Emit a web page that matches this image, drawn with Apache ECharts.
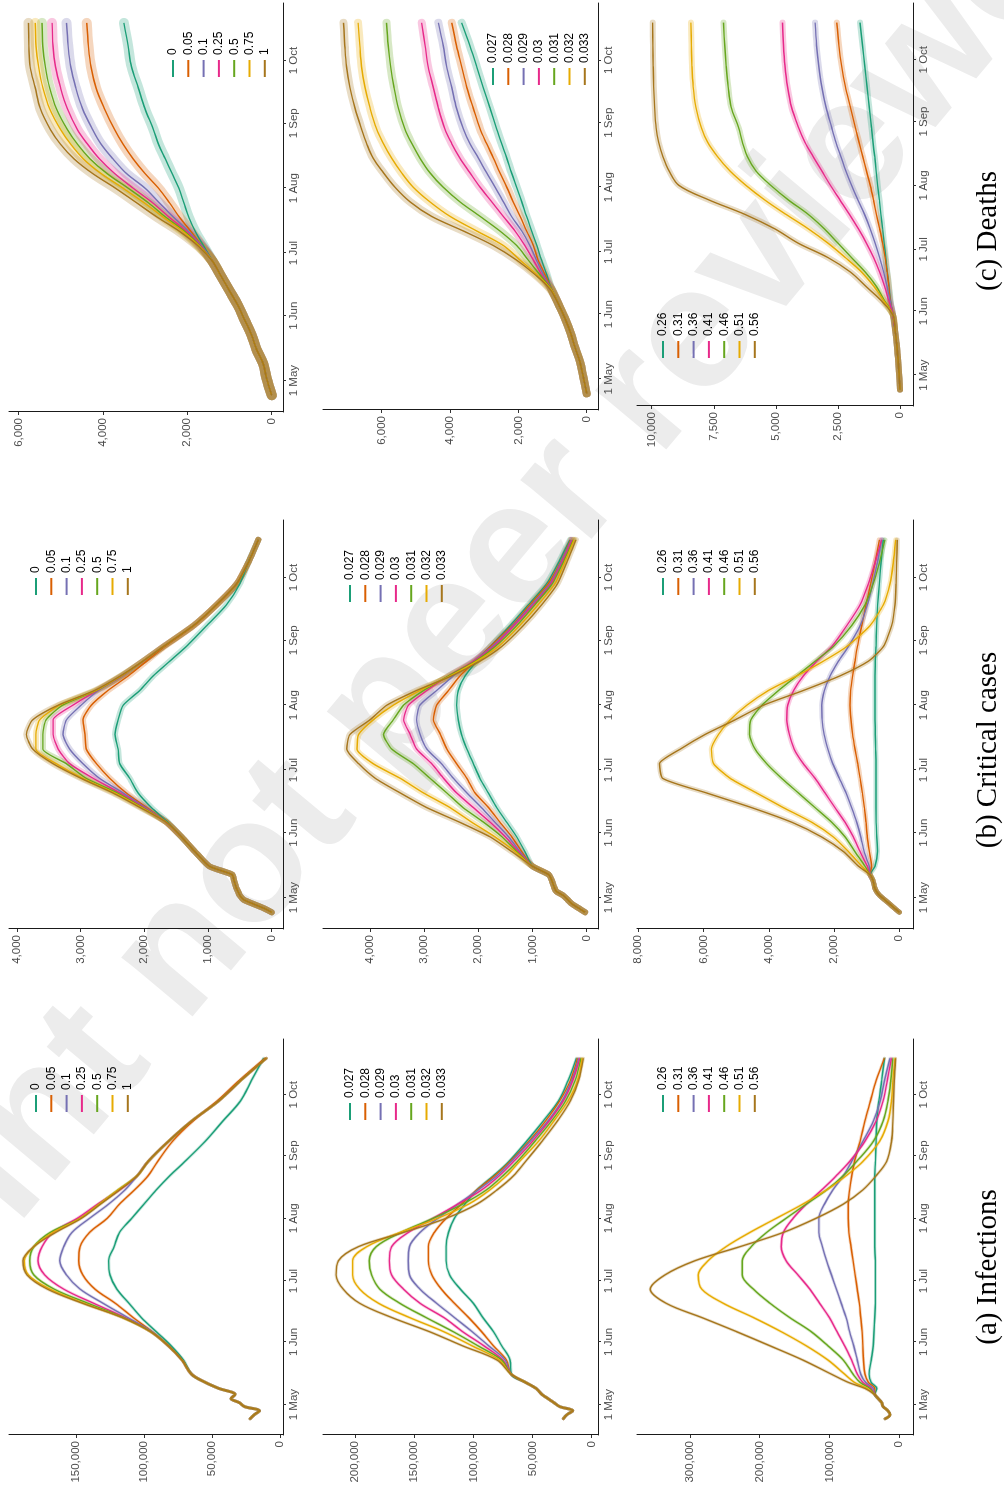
<!DOCTYPE html>
<html>
<head>
<meta charset="utf-8">
<title>Infections, critical cases and deaths</title>
<script src="https://cdn.jsdelivr.net/npm/echarts@6/dist/echarts.min.js"></script>
<style>
    html, body { margin: 0; padding: 0; background: #fff; overflow: hidden; }
    /* the figure is drawn landscape and turned a quarter turn, like the page */
    #page { position: absolute; left: 0; top: 0; width: 1491px; height: 1004px;
            transform-origin: 0 0; transform: translate(0, 1491px) rotate(-90deg); }
</style>
</head>
<body>
<div id="page"></div>
<script type="text/javascript">

    // days counted from 1 May
    var dayGrid = [-7, -5, -3, -1, 1, 3, 5, 8, 11, 15, 22, 29, 36, 43, 50, 57, 64, 71, 78, 85, 92, 99, 106, 113, 120, 130, 140, 150, 160, 171];
    var dayGridDeaths = [-7, 1, 8, 15, 22, 29, 36, 43, 50, 57, 64, 71, 78, 85, 92, 99, 106, 113, 120, 130, 140, 150, 160, 171];
    var monthTicks = [0, 31, 61, 92, 123, 153];
    var monthLabels = ['1 May', '1 Jun', '1 Jul', '1 Aug', '1 Sep', '1 Oct'];

    var colors = ['#1B9E77', '#D95F02', '#7570B3', '#E7298A', '#66A61E', '#E6AB02', '#A6761D'];
    var namesA = ['0', '0.05', '0.1', '0.25', '0.5', '0.75', '1'];
    var namesB = ['0.027', '0.028', '0.029', '0.03', '0.031', '0.032', '0.033'];
    var namesC = ['0.26', '0.31', '0.36', '0.41', '0.46', '0.51', '0.56'];

    // ---- first row: 0 .. 1 ----
    var infA = [
        [22000,19000,15000,26000,30000,36000,33000,45000,55000,65000, 71000,80000,91000,102000,111000,120000,125000,126000,122000,118000, 109000,100000,91000,81000,70000,55000,42000,29000,21000,12000],
        [22000,19000,15000,26000,30000,36000,33000,45000,55000,65000, 72000,82000,94000,108000,121000,136000,145000,148000,147000,140000, 127000,118000,107000,97000,90000,79000,64000,46000,30000,11000],
        [22000,19000,15000,26000,30000,36000,33000,45000,55000,65000, 72000,82000,94000,112000,130000,147000,157000,162000,159000,153000, 140000,126000,114000,105000,97000,82000,65000,45000,29000,10000],
        [22000,19000,15000,26000,30000,36000,33000,45000,55000,65000, 72000,82000,95000,114000,137000,159000,173000,178000,175000,167000, 149000,134000,118000,105000,97000,82000,65000,45000,29000,10000],
        [22000,19000,15000,26000,30000,36000,33000,45000,55000,65000, 72000,82000,95000,115000,141000,166000,181000,184000,181000,169000, 147000,133000,119000,105000,97000,82000,65000,45000,29000,10000],
        [22000,19000,15000,26000,30000,36000,33000,45000,55000,65000, 72000,82000,95000,116000,144000,169000,185000,188000,181000,167000, 147000,133000,119000,105000,97000,82000,65000,45000,29000,10000],
        [22000,19000,15000,26000,30000,36000,33000,45000,55000,65000, 72000,82000,95000,116000,145000,171000,186000,189000,181000,165000, 146000,132000,118000,105000,97000,82000,65000,45000,29000,10000]
    ];
    var critA = [
        [0,130,290,440,500,530,560,590,620,980, 1205,1415,1630,1886,2096,2227,2384,2410,2460,2410, 2330,2070,1860,1600,1340,1020,710,500,370,210],
        [0,130,290,440,500,530,560,590,620,980, 1205,1415,1650,1960,2280,2540,2750,2910,2930,2960, 2830,2570,2250,1965,1680,1220,860,550,370,210],
        [0,130,290,440,500,530,560,590,620,980, 1205,1415,1650,1980,2330,2700,2960,3170,3275,3220, 2990,2720,2340,2020,1700,1230,865,550,370,210],
        [0,130,290,440,500,530,560,590,620,980, 1205,1415,1650,2000,2380,2800,3170,3350,3430,3430, 3120,2740,2350,2020,1700,1230,865,550,370,210],
        [0,130,290,440,500,530,560,590,620,980, 1205,1415,1650,2020,2420,2910,3220,3590,3590,3540, 3280,2750,2360,2020,1700,1230,865,550,370,210],
        [0,130,290,440,500,530,560,590,620,980, 1205,1415,1650,2040,2460,2960,3380,3700,3700,3640, 3330,2760,2360,2020,1700,1230,865,550,370,210],
        [0,130,290,440,500,530,560,590,620,980, 1205,1415,1650,2060,2490,2990,3430,3750,3850,3750, 3350,2780,2370,2020,1700,1230,865,550,370,210]
    ];
    var deaA = [
        [0,120,200,360,480,640,800,1000,1200,1400, 1600,1800,1960,2080,2200,2360,2520,2680,2800,3000,3160,3320,3400,3500],
        [0,120,200,360,480,640,800,1000,1200,1400, 1640,1900,2180,2420,2680,3000,3280,3520,3720,3960,4160,4280,4340,4380],
        [0,120,200,360,480,640,800,1000,1200,1400, 1640,1950,2320,2660,3000,3440,3760,4040,4240,4480,4640,4760,4820,4860],
        [0,120,200,360,480,640,800,1000,1200,1400, 1660,2000,2420,2820,3280,3720,4080,4360,4600,4840,5000,5120,5180,5200],
        [0,120,200,360,480,640,800,1000,1200,1400, 1680,2040,2500,2920,3400,3900,4300,4600,4840,5100,5260,5360,5420,5440],
        [0,120,200,360,480,640,800,1000,1200,1400, 1700,2080,2560,3020,3520,4040,4460,4760,5000,5260,5420,5520,5580,5600],
        [0,120,200,360,480,640,800,1000,1200,1400, 1720,2160,2700,3200,3700,4240,4680,5000,5240,5480,5600,5720,5750,5760]
    ];

    // ---- second row: 0.027 .. 0.033 ----
    var infB = [
        [24000,21000,16000,27000,32000,37000,42000,47000,56000,68000, 69000,76000,83000,92000,100000,111000,120000,123000,123000,121000, 116000,107000,97000,83000,70000,55000,41000,28000,20000,13000],
        [24000,21000,16000,27000,32000,37000,42000,47000,56000,68000, 72000,83000,93000,104000,116000,127000,135000,138000,138000,133000, 123000,110000,97000,82000,69000,53000,39000,27000,18000,12000],
        [24000,21000,16000,27000,32000,37000,42000,47000,56000,68000, 73000,87000,101000,116000,131000,145000,154000,155000,154000,145000, 130000,113000,96000,80000,68000,52000,37000,25000,17000,11000],
        [24000,21000,16000,27000,32000,37000,42000,47000,56000,68000, 75000,91000,109000,125000,145000,159000,169000,171000,169000,155000, 134000,113000,93000,78000,66000,50000,36000,24000,16000,10000],
        [24000,21000,16000,27000,32000,37000,42000,47000,56000,68000, 76000,96000,117000,140000,162000,179000,186000,188000,182000,161000, 134000,109000,89000,75000,63000,48000,34000,22000,14000,9000],
        [24000,21000,16000,27000,32000,37000,42000,47000,56000,68000, 78000,101000,125000,154000,180000,196000,202000,202000,190000,162000, 130000,104000,86000,72000,61000,45000,32000,20000,12000,8000],
        [24000,21000,16000,27000,32000,37000,42000,47000,56000,68000, 80000,109000,137000,169000,196000,210000,216000,214000,197000,159000, 123000,97000,80000,66000,56000,42000,29000,18000,11000,7000]
    ];
    var critB = [
        [30,150,270,350,430,560,600,640,700,1000, 1140,1290,1475,1660,1815,1970,2090,2210,2310,2370, 2400,2370,2245,2030,1780,1415,1075,740,520,310],
        [30,150,270,350,430,560,600,640,700,1000, 1200,1380,1600,1810,2060,2210,2400,2580,2700,2830, 2770,2550,2340,2060,1780,1380,1045,710,490,295],
        [30,150,270,350,430,560,600,640,700,1000, 1230,1440,1690,1940,2210,2460,2680,2950,3075,3140, 3080,2770,2460,2090,1750,1360,1015,680,480,280],
        [30,150,270,350,430,560,600,640,700,1000, 1260,1500,1780,2090,2400,2640,2860,3140,3260,3380, 3290,2950,2550,2090,1720,1340,985,660,460,265],
        [30,150,270,350,430,560,600,640,700,1000, 1290,1560,1900,2280,2580,2890,3200,3600,3750,3570, 3380,3010,2550,2060,1690,1290,955,635,440,245],
        [30,150,270,350,430,560,600,640,700,1000, 1320,1690,2120,2520,3010,3440,3940,4240,4210,3940, 3570,3080,2520,2030,1630,1240,895,585,410,230],
        [30,150,270,350,430,560,600,640,700,1000, 1380,1780,2340,2950,3440,3900,4210,4430,4370,4000, 3690,3140,2490,1970,1570,1170,830,540,370,200]
    ];
    var deaB = [
        [0,100,195,340,470,635,830,1030, 1170,1320,1460,1610,1760,1900,2050,2200,2340,2490,2635,2830,3030,3220,3420,3660],
        [0,100,195,340,470,635,830,1030, 1220,1420,1560,1760,1950,2150,2340,2540,2730,2930,3120,3320,3510,3660,3810,3950],
        [0,100,195,340,470,635,830,1030, 1270,1470,1660,1900,2200,2440,2680,2930,3170,3420,3610,3810,3950,4100,4200,4340],
        [0,100,195,340,470,635,830,1030, 1320,1560,1810,2100,2440,2780,3120,3420,3710,3950,4150,4340,4490,4640,4730,4830],
        [0,100,195,340,470,635,830,1030, 1370,1710,2050,2540,3120,3710,4200,4590,4880,5120,5320,5510,5640,5740,5810,5860],
        [0,100,195,340,470,635,830,1050, 1460,1950,2440,3220,4000,4590,5075,5420,5710,5950,6150,6340,6490,6590,6640,6690],
        [0,100,195,340,470,635,830,1070, 1510,2050,2730,3610,4540,5170,5610,5950,6250,6440,6590,6780,6930,7030,7080,7120]
    ];

    // ---- third row: 0.26 .. 0.56 ----
    var infC = [
        [20000,13000,16000,23000,25000,30000,35000, 32000,40000,43000,40000,37000,36000,35000,34000,34000,34000,34000,35000,35000,35000,35000,35000,35000,34000,33000,32000,29000,25000,21000],
        [20000,13000,16000,23000,25000,30000,35000, 35000,44000,49000,51000,52000,53000,55000,57000,60000,63000,66000,69000,72000,73000,73000,71000,68000,64000,56000,49000,41000,33000,21000],
        [20000,13000,16000,23000,25000,30000,35000, 37000,48000,55000,60000,65000,71000,76000,83000,90000,97000,104000,110000,115000,115000,107000,95000,80000,68000,52000,37000,27000,21000,13000],
        [20000,13000,16000,23000,25000,30000,35000, 40000,52000,60000,68000,78000,89000,100000,114000,128000,145000,162000,169000,166000,152000,133000,111000,90000,71000,49000,33000,23000,17000,11000],
        [20000,13000,16000,23000,25000,30000,35000, 42000,56000,66000,80000,102000,126000,157000,185000,209000,225000,225000,212000,190000,162000,133000,104000,80000,61000,37000,23000,16000,12000,9000],
        [20000,13000,16000,23000,25000,30000,35000, 46000,64000,78000,102000,133000,169000,209000,252000,283000,288000,274000,248000,214000,176000,138000,104000,76000,52000,28000,16000,11000,9000,6000],
        [20000,13000,16000,23000,25000,30000,35000, 49000,73000,97000,138000,185000,233000,283000,334000,357000,336000,293000,228000,166000,119000,80000,52000,33000,18000,11000,9000,8000,7000,5000]
    ];
    var critC = [
        [0,150,300,450,600,700,760,800,900, 745,670,690,710,714,714,714,714,724,735,745,745,745,745,735,714,694,663,612,561,490],
        [0,150,300,450,600,700,760,800,900, 850,918,980,1020,1070,1130,1200,1275,1357,1430,1480,1510,1490,1430,1357,1285,1150,1020,877,745,612],
        [0,150,300,450,600,700,760,800,900, 920,1080,1180,1305,1460,1630,1835,2040,2190,2305,2365,2375,2295,2120,1865,1560,1200,980,816,673,540],
        [0,150,300,450,600,700,760,800,900, 980,1200,1410,1660,1970,2275,2580,2940,3220,3370,3450,3420,3240,2940,2530,2070,1610,1200,950,745,540],
        [0,150,300,450,600,700,760,800,900, 1050,1360,1660,2070,2580,3090,3600,4060,4420,4590,4550,4210,3700,3140,2580,2020,1460,1050,800,610,440],
        [0,150,300,450,600,700,760,800,900, 1150,1560,2020,2680,3550,4370,5180,5690,5760,5540,5180,4670,4010,3140,2330,1610,900,490,286,184,112],
        [0,150,300,450,600,700,760,800,900, 1250,1710,2380,3290,4520,5900,7250,7350,6710,5950,5030,4160,2940,1815,950,490,235,133,100,82,61]
    ];
    var deaC = [
        [0,40,80,130,200,280, 380,440,510,570,640,700,770,830,900,960,1020,1090,1150,1240,1330,1420,1510,1610],
        [0,40,80,130,200,280, 390,450,520,600,700,820,950,1070,1200,1350,1500,1650,1800,2000,2200,2350,2460,2550],
        [0,40,80,130,200,280, 400,520,660,820,1000,1200,1430,1700,1950,2180,2380,2580,2750,2980,3150,3270,3360,3420],
        [0,40,80,130,200,280, 450,620,820,1060,1350,1680,2040,2420,2800,3150,3500,3830,4080,4370,4530,4630,4690,4730],
        [0,40,80,130,200,280, 620,950,1400,1950,2500,3050,3700,4500,5200,5800,6150,6350,6500,6800,6920,7000,7060,7110],
        [0,40,80,130,200,280, 650,1050,1550,2200,2900,3700,4600,5450,6200,6850,7350,7750,8000,8220,8330,8380,8400,8420],
        [0,40,80,130,200,280, 750,1370,2000,2900,4100,5050,6250,7700,8900,9300,9550,9720,9820,9880,9920,9940,9950,9960]
    ];

    // panel layout, in the unrotated (landscape) frame
    var panels = [
        {data: infA,  days: dayGrid,       names: namesA, grid: [56, 9, 396, 274],    y: [-2205, 199270],  ticks: [0, 50000, 100000, 150000],          legend: [379, 30],   band: 3,  smooth: 0.35},
        {data: critA, days: dayGrid,       names: namesA, grid: [562, 9, 409, 274],   y: [-177, 4122],     ticks: [0, 1000, 2000, 3000, 4000],         legend: [896, 30],   band: 6,  smooth: 0.2},
        {data: deaA,  days: dayGridDeaths, names: namesA, grid: [1079, 9, 409, 274],  y: [-268, 6221],     ticks: [0, 2000, 4000, 6000],               legend: [1414, 167], band: 10, smooth: 0.35},
        {data: infB,  days: dayGrid,       names: namesB, grid: [56, 323, 396, 275],  y: [-5320, 227050],  ticks: [0, 50000, 100000, 150000, 200000],  legend: [371, 344],  band: 3,  smooth: 0.35},
        {data: critB, days: dayGrid,       names: namesB, grid: [562, 323, 409, 275], y: [-210, 4868],     ticks: [0, 1000, 2000, 3000, 4000],         legend: [889, 344],  band: 6,  smooth: 0.2},
        {data: deaB,  days: dayGridDeaths, names: namesB, grid: [1081, 323, 407, 275],y: [-331, 7718],     ticks: [0, 2000, 4000, 6000],               legend: [1406, 487], band: 8,  smooth: 0.35},
        {data: infC,  days: dayGrid,       names: namesC, grid: [56, 637, 396, 276],  y: [-19920, 375900], ticks: [0, 100000, 200000, 300000],         legend: [379, 657],  band: 3,  smooth: 0.35},
        {data: critC, days: dayGrid,       names: namesC, grid: [562, 637, 409, 276], y: [-420, 8038],     ticks: [0, 2000, 4000, 6000, 8000],         legend: [896, 657],  band: 5,  smooth: 0.2},
        {data: deaC,  days: dayGridDeaths, names: namesC, grid: [1085, 637, 403, 276],y: [-523, 10591],    ticks: [0, 2500, 5000, 7500, 10000],        legend: [1133, 657], band: 6,  smooth: 0.35}
    ];

    function commas(v) {
        return String(v).replace(/\B(?=(\d{3})+(?!\d))/g, ',');
    }

    var grids = [], xAxes = [], yAxes = [], legends = [], series = [];

    for (var p = 0; p < panels.length; p++) {
        var pn = panels[p];
        grids.push({left: pn.grid[0], top: pn.grid[1], width: pn.grid[2], height: pn.grid[3], containLabel: false});
        xAxes.push({
            type: 'value', gridIndex: p, min: -15, max: 180.5,
            axisLine: {show: true, onZero: false, lineStyle: {color: '#1a1a1a', width: 1}},
            axisTick: {show: true, customValues: monthTicks, length: 3, lineStyle: {color: '#333'}},
            axisLabel: {customValues: monthTicks, margin: 5, color: '#4d4d4d', fontSize: 11.5, fontFamily: 'Liberation Sans',
                formatter: function (v) { return monthLabels[monthTicks.indexOf(v)]; }},
            splitLine: {show: false}
        });
        yAxes.push({
            type: 'value', gridIndex: p, min: pn.y[0], max: pn.y[1],
            axisLine: {show: true, onZero: false, lineStyle: {color: '#1a1a1a', width: 1}},
            axisTick: {show: true, customValues: pn.ticks, length: 3, lineStyle: {color: '#333'}},
            axisLabel: {customValues: pn.ticks, margin: 6, color: '#4d4d4d', fontSize: 11.5, fontFamily: 'Liberation Sans',
                formatter: function (v) { return commas(v); }},
            splitLine: {show: false}
        });
        legends.push({
            orient: 'vertical', left: pn.legend[0], top: pn.legend[1], padding: 0, itemGap: 3.3,
            itemWidth: 17, itemHeight: 2, icon: 'rect', selectedMode: false, data: pn.names,
            textStyle: {fontSize: 12, color: '#000', fontFamily: 'Liberation Sans'}
        });

        // ribbons first, lines on top
        for (var k = 0; k < 7; k++) {
            var pts = [];
            for (var j = 0; j < pn.days.length; j++) pts.push([pn.days[j], pn.data[k][j]]);
            series.push({
                type: 'line', name: pn.names[k] + ' ribbon', xAxisIndex: p, yAxisIndex: p, data: pts,
                showSymbol: false, smooth: pn.smooth, silent: true, z: 1,
                lineStyle: {color: colors[k], width: pn.band, opacity: 0.26, cap: 'round', join: 'round'}
            });
        }
        for (var k2 = 0; k2 < 7; k2++) {
            var pts2 = [];
            for (var j2 = 0; j2 < pn.days.length; j2++) pts2.push([pn.days[j2], pn.data[k2][j2]]);
            series.push({
                type: 'line', name: pn.names[k2], xAxisIndex: p, yAxisIndex: p, data: pts2,
                showSymbol: false, smooth: pn.smooth, silent: true, z: 3, color: colors[k2],
                lineStyle: {color: colors[k2], width: 1.4}
            });
        }
    }

    var chart = echarts.init(document.getElementById('page'), null, {renderer: 'canvas', width: 1491, height: 1004});
    chart.setOption({
        animation: false,
        backgroundColor: '#fff',
        grid: grids,
        xAxis: xAxes,
        yAxis: yAxes,
        legend: legends,
        series: series,
        graphic: [
            {type: 'text', x: 791, y: 394, rotation: -0.696, z: -10, silent: true,
             style: {text: 'Preprint not peer reviewed', fontSize: 175, fontWeight: 'bold', fontFamily: 'Liberation Sans',
                     fill: '#ececec', align: 'center', verticalAlign: 'middle'}},
            {type: 'text', x: 224, y: 988, z: 100,
             style: {text: '(a) Infections', fontSize: 29, fontFamily: 'Liberation Serif', fill: '#000', align: 'center', verticalAlign: 'middle'}},
            {type: 'text', x: 741, y: 988, z: 100,
             style: {text: '(b) Critical cases', fontSize: 29, fontFamily: 'Liberation Serif', fill: '#000', align: 'center', verticalAlign: 'middle'}},
            {type: 'text', x: 1260, y: 988, z: 100,
             style: {text: '(c) Deaths', fontSize: 29, fontFamily: 'Liberation Serif', fill: '#000', align: 'center', verticalAlign: 'middle'}}
        ]
    });
</script>
</body>
</html>
